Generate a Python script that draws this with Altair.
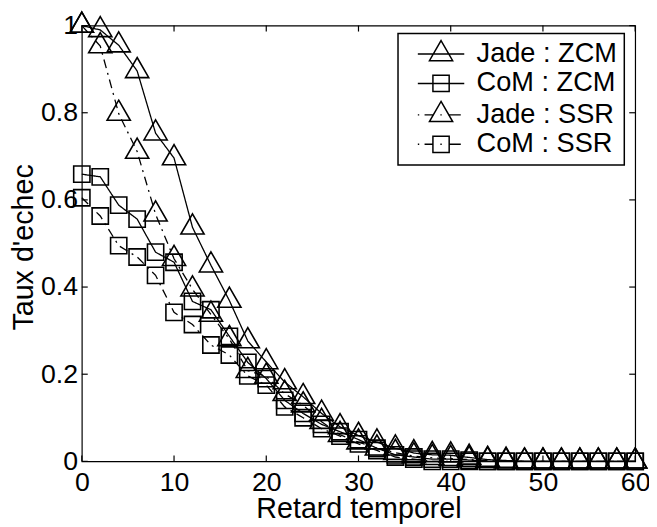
import altair as alt
import pandas as pd

# ---------------- data ----------------
delays = list(range(0, 61, 2))
series_names = ["Jade : ZCM", "CoM : ZCM", "Jade : SSR", "CoM : SSR"]

jade_zcm = [1.0, 0.99, 0.955, 0.896, 0.753, 0.696, 0.537, 0.45, 0.369, 0.276,
            0.228, 0.182, 0.148, 0.11, 0.079, 0.059, 0.044, 0.03, 0.019, 0.015,
            0.014, 0.009, 0.004, 0.002, 0.0, 0.0, 0.0, 0.0, 0.0, 0.0, 0.0]
com_zcm = [0.659, 0.653, 0.588, 0.556, 0.48, 0.457, 0.367, 0.348, 0.287, 0.227,
           0.19, 0.14, 0.11, 0.085, 0.068, 0.05, 0.03, 0.015, 0.01, 0.005,
           0.005, 0.003, 0.0, 0.0, 0.0, 0.0, 0.0, 0.0, 0.0, 0.0, 0.0]
jade_ssr = [1.0, 0.953, 0.798, 0.711, 0.567, 0.465, 0.395, 0.337, 0.281, 0.208,
            0.195, 0.155, 0.129, 0.091, 0.061, 0.044, 0.03, 0.02, 0.012, 0.008,
            0.006, 0.004, 0.002, 0.0, 0.0, 0.0, 0.0, 0.0, 0.0, 0.0, 0.0]
com_ssr = [0.605, 0.563, 0.495, 0.469, 0.427, 0.342, 0.314, 0.267, 0.244, 0.196,
           0.175, 0.125, 0.10, 0.075, 0.058, 0.04, 0.025, 0.01, 0.005, 0.0,
           0.0, 0.0, 0.0, 0.0, 0.0, 0.0, 0.0, 0.0, 0.0, 0.0, 0.0]

x_ticks = [0, 10, 20, 30, 40, 50, 60]
y_ticks = [0, 0.2, 0.4, 0.6, 0.8, 1]

rows = []
for name, vals in zip(series_names, [jade_zcm, com_zcm, jade_ssr, com_ssr]):
    for d, v in zip(delays, vals):
        rows.append({"delay": d, "rate": v, "series": name})
df = pd.DataFrame(rows)

# ---------------- styling ----------------
W, H = 560, 441
FONT = "Liberation Sans"
TICK = 6

tri = "M0,-1.155L1,0.577L-1,0.577Z"
sq = "M-0.7,-0.7H0.7V0.7H-0.7Z"
marker_paths = [tri, sq, tri, sq]
legend_paths = [
    "M-2,0H2" + tri,
    "M-2,0H2" + sq,
    "M-2,0H-1.88M-1.42,0H-0.6M-0.06,0H0.06M0.6,0H1.7" + tri,
    "M-2,0H-1.88M-1.42,0H-0.7M-0.06,0H0.06M0.7,0H1.7" + sq,
]
dashes = [[1, 0], [1, 0], [9, 5, 2, 5], [9, 5, 2, 5]]

xscale = alt.Scale(domain=[0, 60], nice=False, zero=False, padding=0)
yscale = alt.Scale(domain=[0, 1], nice=False, zero=False, padding=0)

x_axis = alt.Axis(values=x_ticks, labelPadding=8, labelFlush=False,
                  title="Retard temporel",
                  titleX=W / 2, titleY=56.5, titleBaseline="alphabetic")
y_axis = alt.Axis(values=y_ticks, format="~g", labelPadding=4.4, labelFlush=False,
                  title="Taux d'echec", titleX=-49.5, titleY=224,
                  titleBaseline="alphabetic")

base = alt.Chart(df)

lines = base.mark_line(color="black", strokeWidth=1.3).encode(
    x=alt.X("delay:Q", scale=xscale, axis=x_axis),
    y=alt.Y("rate:Q", scale=yscale, axis=y_axis),
    detail="series:N",
    strokeDash=alt.StrokeDash("series:N",
                              scale=alt.Scale(domain=series_names, range=dashes),
                              legend=None),
)

points = base.mark_point(filled=False, color="black", strokeWidth=1.6,
                         size=552, opacity=1).encode(
    x=alt.X("delay:Q", scale=xscale),
    y=alt.Y("rate:Q", scale=yscale),
    shape=alt.Shape("series:N",
                    scale=alt.Scale(domain=series_names, range=marker_paths),
                    legend=None),
)

carrier = base.mark_point(filled=False, color="black", strokeWidth=1.5,
                          size=552, opacity=0).encode(
    x=alt.X("delay:Q", scale=xscale),
    y=alt.Y("rate:Q", scale=yscale),
    shape=alt.Shape(
        "series:N",
        scale=alt.Scale(domain=series_names, range=legend_paths),
        legend=alt.Legend(
            title=None, orient="none", legendX=320, legendY=8,
            padding=7, rowPadding=0.8, symbolOffset=22.8, labelOffset=22.2,
            labelFont=FONT, labelFontSize=27.5, labelColor="black",
            strokeColor="black", fillColor="white",
            symbolSize=552, symbolStrokeWidth=1.5, symbolStrokeColor="black",
            symbolFillColor="transparent", symbolOpacity=1,
            labelExpr="datum.label + '\u00a0\u00a0'",
        ),
    ),
)

xt = alt.Chart(pd.DataFrame({"delay": x_ticks}))
yt = alt.Chart(pd.DataFrame({"rate": y_ticks}))
tick_style = dict(color="black", strokeWidth=1.2)

ticks_bottom = xt.mark_rule(**tick_style).encode(
    x=alt.X("delay:Q", scale=xscale), y=alt.value(H), y2=alt.value(H - TICK))
ticks_top = xt.mark_rule(**tick_style).encode(
    x=alt.X("delay:Q", scale=xscale), y=alt.value(0), y2=alt.value(TICK))
ticks_left = yt.mark_rule(**tick_style).encode(
    y=alt.Y("rate:Q", scale=yscale), x=alt.value(0), x2=alt.value(TICK))
ticks_right = yt.mark_rule(**tick_style).encode(
    y=alt.Y("rate:Q", scale=yscale), x=alt.value(W), x2=alt.value(W - TICK))

chart = alt.layer(
    lines, points, carrier, ticks_bottom, ticks_top, ticks_left, ticks_right
).resolve_scale(
    shape="independent", strokeDash="independent"
).properties(
    width=W, height=H,
    autosize=alt.AutoSizeParams(type="none"),
    padding={"left": 74.7, "top": 14.7, "right": 14, "bottom": 63},
    background="white",
).configure_view(
    stroke="black", strokeWidth=1.2
).configure_axis(
    labelFont=FONT, labelFontSize=27, labelColor="black",
    titleFont=FONT, titleFontSize=29, titleColor="black",
    titleFontWeight="normal", grid=False, ticks=False, domain=False,
).configure_legend(
    strokeWidth=1.5
)

chart.save("out.html", embed_options={"renderer": "svg", "actions": False})
